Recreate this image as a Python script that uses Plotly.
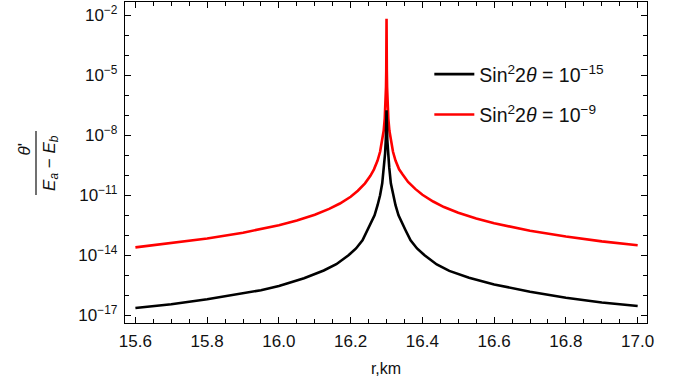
import plotly.graph_objects as go

# ---- data (r in km, value of theta'/(Ea-Eb)) ----
r_red = [15.600, 15.700, 15.800, 15.900, 15.950, 16.000, 16.050, 16.100, 16.140, 16.170,
         16.200, 16.220, 16.240, 16.255, 16.265, 16.275, 16.282, 16.288, 16.292, 16.295,
         16.297, 16.2985, 16.2992, 16.2996, 16.2998, 16.300,
         16.3002, 16.3004, 16.3008, 16.3015, 16.303, 16.305, 16.308, 16.312, 16.318, 16.325,
         16.335, 16.345, 16.360, 16.380, 16.400, 16.430, 16.460, 16.500, 16.550, 16.600,
         16.650, 16.700, 16.800, 16.900, 17.000]
v_red = [2.5e-14, 4.0e-14, 6.9e-14, 1.35e-13, 2.0e-13, 3.2e-13, 5.5e-13, 1.07e-12, 2.1e-12, 3.9e-12,
         8.5e-12, 1.7e-11, 4.0e-11, 9.5e-11, 2.0e-10, 5.5e-10, 1.5e-9, 5.0e-9, 1.7e-8, 6.9e-8,
         3.2e-7, 2.6e-6, 1.7e-5, 1.35e-4, 1.07e-3, 6.8e-3,
         1.07e-3, 1.35e-4, 1.7e-5, 2.6e-6, 3.2e-7, 6.9e-8, 1.7e-8, 5.0e-9, 1.5e-9, 5.5e-10,
         2.0e-10, 1.1e-10, 4.7e-11, 2.1e-11, 1.07e-11, 4.9e-12, 2.6e-12, 1.35e-12, 6.9e-13, 4.0e-13,
         2.5e-13, 1.7e-13, 8.7e-14, 5.0e-14, 3.2e-14]

r_black = [15.600, 15.700, 15.800, 15.900, 15.950, 16.000, 16.070, 16.125, 16.160, 16.194,
           16.215, 16.233, 16.247, 16.257, 16.2666, 16.275, 16.282, 16.288, 16.2925, 16.296,
           16.298, 16.299, 16.300,
           16.301, 16.302, 16.304, 16.3075, 16.312, 16.318, 16.325, 16.3334, 16.343, 16.353,
           16.367, 16.385, 16.406, 16.440, 16.475, 16.530, 16.600, 16.650, 16.700, 16.800,
           16.900, 17.000]
v_black = [2.3e-17, 3.6e-17, 6.3e-17, 1.23e-16, 1.8e-16, 2.9e-16, 7.1e-16, 1.75e-15, 3.6e-15, 1.0e-14,
           2.2e-14, 5.6e-14, 1.8e-13, 4.0e-13, 1.0e-12, 3.2e-12, 1.0e-11, 4.0e-11, 2.5e-10, 1.26e-9,
           6.3e-9, 4.0e-8, 1.8e-7,
           4.0e-8, 6.3e-9, 1.26e-9, 2.5e-10, 4.0e-11, 1.0e-11, 3.2e-12, 1.0e-12, 4.0e-13, 1.8e-13,
           5.6e-14, 2.2e-14, 1.0e-14, 3.5e-15, 1.66e-15, 7.6e-16, 3.5e-16, 2.2e-16, 1.5e-16, 7.6e-17,
           4.4e-17, 2.9e-17]

name_black = "Sin<sup>2</sup>2<i>θ</i> = 10<sup>−15</sup>"
name_red = "Sin<sup>2</sup>2<i>θ</i> = 10<sup>−9</sup>"

y_major_exp = [-17, -14, -11, -8, -5, -2]
y_minor_exp = [e for e in range(-17, -1) if e not in y_major_exp]
x_ticks = [15.6, 15.8, 16.0, 16.2, 16.4, 16.6, 16.8, 17.0]

FONT = "Liberation Sans, Arial, sans-serif"
TXT = "#111111"

fig = go.Figure()
# red drawn first so the black spike is visible on top of it (as in the reference)
fig.add_trace(go.Scatter(x=r_red, y=v_red, mode="lines", name=name_red,
                         line=dict(color="#ff0000", width=2.6), legendrank=2,
                         legendgroup="red"))
fig.add_trace(go.Scatter(x=r_black, y=v_black, mode="lines", name=name_black,
                         line=dict(color="black", width=2.6), legendrank=1,
                         legendgroup="black"))

axis_common = dict(showline=True, linecolor="black", linewidth=1.3, mirror="ticks",
                   ticks="inside", ticklen=6, tickwidth=1.2, tickcolor="black",
                   showgrid=False, zeroline=False,
                   tickfont=dict(family=FONT, size=17, color=TXT))

fig.update_xaxes(range=[15.571, 17.026], tickvals=x_ticks,
                 ticktext=[f"{v:.1f}" for v in x_ticks],
                 ticklabelstandoff=2,
                 minor=dict(dtick=0.05, tick0=15.6, ticks="inside", ticklen=3.5,
                            tickwidth=1, tickcolor="black"),
                 title=dict(text="r,km", font=dict(family=FONT, size=16, color=TXT),
                            standoff=13),
                 **axis_common)
fig.update_yaxes(type="log", range=[-17.385, -1.33],
                 tickvals=[10.0 ** e for e in y_major_exp],
                 ticktext=[f"10<sup>−{-e}</sup>" for e in y_major_exp],
                 ticklabelstandoff=3,
                 minor=dict(tickvals=[10.0 ** e for e in y_minor_exp], ticks="inside",
                            ticklen=3.5, tickwidth=1, tickcolor="black"),
                 **axis_common)

# y-axis title as a fraction theta' / (E_a - E_b)
fig.add_annotation(text="<i>θ</i>'", textangle=-90, xref="paper", yref="paper",
                   x=-0.214, y=0.54, showarrow=False,
                   font=dict(family=FONT, size=17, color=TXT))
fig.add_annotation(text="<i>E</i><sub><i>a</i></sub> − <i>E</i><sub><i>b</i></sub>",
                   textangle=-90, xref="paper", yref="paper",
                   x=-0.167, y=0.498, showarrow=False,
                   font=dict(family=FONT, size=17, color=TXT))
fig.add_shape(type="line", xref="paper", yref="paper", x0=-0.1705, x1=-0.1705,
              y0=0.399, y1=0.598, line=dict(color=TXT, width=1.2))

fig.update_layout(
    width=684, height=391,
    margin=dict(l=125, r=37, t=2, b=68),
    paper_bgcolor="white", plot_bgcolor="white",
    showlegend=True,
    legend=dict(x=0.583, y=0.835, xanchor="left", yanchor="top",
                bgcolor="rgba(0,0,0,0)", tracegroupgap=12, itemwidth=40,
                font=dict(family=FONT, size=19.5, color=TXT)),
    font=dict(family=FONT, color=TXT),
)

fig.write_html("out.html")
